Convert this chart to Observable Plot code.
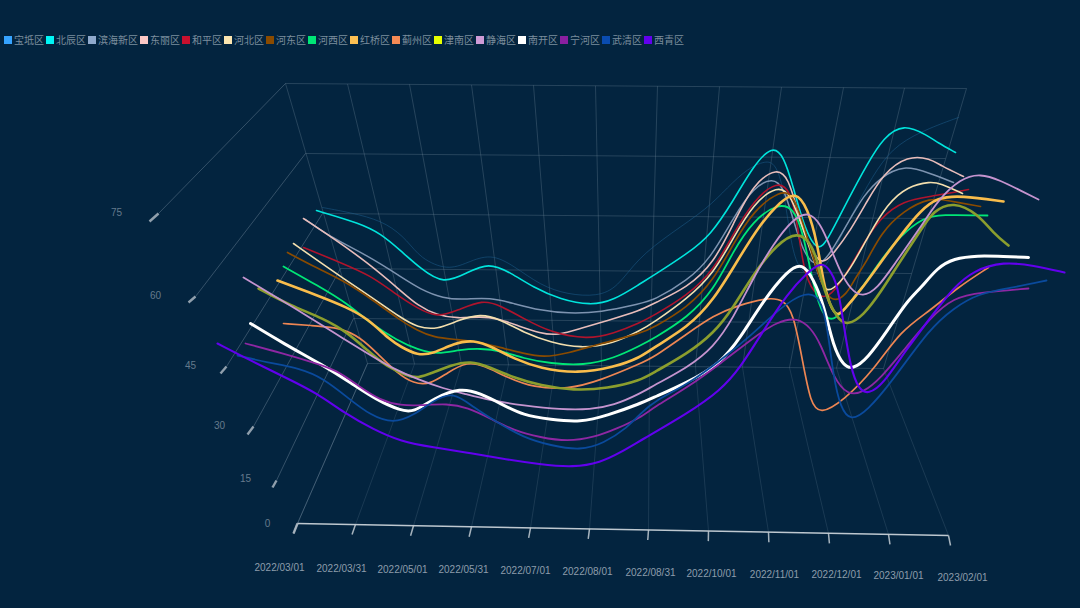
<!DOCTYPE html>
<html><head><meta charset="utf-8">
<script src="https://cdn.jsdelivr.net/npm/d3@7"></script>
<script src="https://cdn.jsdelivr.net/npm/@observablehq/plot@0.6"></script>
<style>
html,body{margin:0;padding:0;background:#03243f;width:1080px;height:608px;overflow:hidden}
#legend{height:50px;box-sizing:border-box;padding:29px 0 0 4px;display:flex;font:10px/10px "Noto Sans CJK SC",sans-serif;color:#7c8e9d}
#legend .it{display:flex;align-items:center;margin-right:2px}
#legend i{display:block;width:8px;height:8px;margin-right:2px}
svg{display:block}
</style></head><body>
<div id="legend"></div><div id="chart"></div>
<script>
// The original is a 3D chart seen in perspective. Values are read in its projected plane:
// flat lists of projected day (since 2022/03/01), projected value, ...
const baodi=[12.5,79.5,31.5,77.75,45,75.5,55,71.25,61.5,66.75,75,63.75,85,65.75,96.5,68,108,65,121.5,60,135,57.75,150,57.25,160,59.5,170,66.75,186.5,73,205,79.25,215,84.5,225,89.25,234,91.25,239,90.5,243,84.5,246.5,71.25,250,64.5,256.5,61.75,264,64.25,270,70.5,280,80.5,290,89.5,300,95.5,316.5,99.5,330.5,102];
const beichen=[9.5,78.75,31.5,75.5,41.5,73,51.5,68.75,61.5,64.25,73,60.25,85,63.25,95.5,65.75,106.5,63.25,118,59.5,131.5,56.5,146.5,55,158,56.25,171.5,60.5,178,62.5,195,68,206.5,72.5,218,81.25,228,90,237.5,95,243,92.5,248,84.5,253,75,260,68,265.5,71.75,275,81.25,285,90.5,293,97,303,100.5,315,97.5,320,95.75,329,93.25];
const binhai=[4,76.5,15,72.5,35,67.5,51.5,62.25,61.5,59,73,56.75,83,56.5,96.5,57,108,55.5,121.5,53.75,135,53,151.5,53.25,171.5,55.5,178,56.25,195,61.25,206.5,66.75,218,77,228,84.5,237.5,87,243,84.75,248,76.25,253,68,260,64.25,266.5,68,275,75.5,283,82.5,291.5,87,303,90.25,316.5,88,328,85.75];
const dongli=[3,76.75,18,71.75,35,65.75,51.5,58.75,60,55,70,52.5,80,51.75,91.5,52.25,100,51.75,110,50,121.5,48,130,47.5,141.5,49.25,155,51.25,171.5,53.75,178,55.5,195,59.5,208,65.5,218,75.5,228,85.5,240,89.5,245.5,86.75,250,78.75,256.5,68.75,262.5,65,268,68,276.5,73.75,285,81.25,293,88,305,92.5,316.5,91.75,321.5,90,333,87.25];
const heping=[3,69.5,21.5,65.75,36.5,62.5,48,58.25,60,54.25,70,52,80,53.75,92.5,56.5,101.5,55,113,51.75,126.5,48.25,145,46.5,158,48,171.5,50.75,178,52.5,195,57.5,208,63.75,218,73,228,81.25,240,86.25,246.5,83.75,250,75.5,253,63.75,258,58,265,56.25,274,62.5,283,70.5,291.5,77,303,81.25,316.5,82.25,335.5,84];
const hebei=[-2,70.5,10,66.25,23,61.75,38,56.75,51.5,52,60,49.5,70,49,80,51.25,91.5,53,101.5,51.5,113,48.25,126.5,45.75,141.5,44.25,158,45.5,171.5,48.75,178,50.75,195,56.75,208,63,218,72,228,80.5,240,85,246.5,83,253,73.75,260,63.75,264,57.5,271.5,60.75,278,65.5,285,72,295,80.5,305,84.75,316.5,86,321.5,85.5,332.5,83];
const hedong=[-5,68.25,10,64.25,23,61.25,38,56.25,51.5,51.25,60,48.75,68,47,80,46.5,91.5,45.75,101.5,44.5,113,43,123,42,135,43,151.5,45.5,171.5,48,178,49.5,195,54.5,208,61.25,218,70.5,228,78.75,241.5,83.75,247.5,83,253,75.5,260,63,266.5,55,275,58,278,61.25,285,66.25,291.5,73,303,78.75,316.5,82,325,81.25,341.5,79.75];
const hexi=[-7,64.75,10,60,25,55.5,36.5,50.5,50,46.25,60,44,70,42.75,81.5,44,91.5,44.25,101.5,43.75,113,41.75,126.5,40.5,143,40,158,41.75,171.5,45,178,46.75,195,52,208,58.75,218,68.75,228,76.25,240,80.5,248,79.5,253,73,258,59.5,263,52,268,51.25,273,53.75,281.5,58.75,291.5,66.25,301.5,72.5,313,77,321.5,77.75,345,77.5];
const hongqiao=[-10,61.25,10,57.5,25,54.5,35,51.75,46.5,46.25,51.5,44.75,60,42.5,68,43,78,45.5,88,46.5,98,44.5,108,41.75,121.5,39.25,140,38,158,39.5,171.5,42,178,44.5,195,49.5,208,56.25,220,66.25,231.5,75.5,241.5,81,249,83.5,255,79.5,260,70.5,263,60.5,266.5,54.5,270,52.25,273,53.75,281.5,58.75,291.5,65.75,301.5,72.5,311.5,78.75,320,82,331.5,82.5,353,81];
const jizhou=[-7,50.5,6.5,50,21.5,49.5,31.5,47,40,43,50,38,58,35.5,66.5,35.25,75,38.25,85,41,93,40,105,37,118,34.5,135,34,151.5,36.25,171.5,40.5,178,42,195,48,208,52.5,220,55,235,57,243,56.5,248,53,252.5,41.25,256.5,30.5,261.5,27.75,273,31.25,288,38.75,301.5,48.75,316.5,53.75,330,59.5,345.5,64.5];
const jinnan=[-19.5,59.25,-3.5,55,13,51.75,25,48.25,35,43.75,45,39.5,55,37.5,60,36.75,68,38.25,76.5,40,86.5,41.25,96.5,39.5,108,37,121.5,35,138,33.75,155,34.25,171.5,36.25,178,38.25,195,43,208,48,218,54.5,228,63,240,70.5,250,73.5,256.5,70.75,260,66.25,263,58.75,270,51.5,275,50,283,52.5,291.5,58.25,300,65,311.5,73.75,318,78.75,328,81,340,78,348,73,355.5,70];
const jinghai=[-27,62,-12,57.5,3,53,18,48.25,35,43,46.5,39.5,61.5,36.25,73,34.25,83,33,96.5,31.25,113,30,131.5,29,146.5,29,158,30,171.5,33,178,35,195,39.5,208,44.5,218,52,228,62,238,70.5,248,76.75,255.5,78.5,261.5,75.5,266.5,69.5,271.5,63.25,276.5,59,282.5,57,290,59.25,298,65,311.5,74.5,320,81.25,331.5,86.75,341.5,88,351.5,86.25,361.5,83.75,370.5,81.5];
const nankai=[-23.5,50.5,-7,45.5,13,40,26.5,35.75,40,31.25,51.5,28.75,58,28.25,68,31.75,81.5,34.5,91.5,33,101.5,30.5,113,27.5,126.5,26.5,141.5,25.75,155,27.5,171.5,30.5,178,32,195,35.75,211.5,40.5,221.5,47,233,56.25,245,63.75,252.5,65.75,258,61.5,263,55.5,268,44.5,273,40,277.5,39,285,41.75,295,48.75,305,56.25,311.5,59.25,320,64.5,328,66.75,340,67.5,353,67.25,365.5,67];
const ninghe=[-26,45.5,-7,43,8,40.75,20,38.75,30,35,41.5,31.25,51.5,30,61.5,30,75,30.5,85,29.5,96.5,26.75,108,23.75,121.5,22,135,21,148,22,160,24.25,171.5,27,178,29.5,195,34.5,211.5,40.5,228,47,240,51,250,52,256.5,49.5,261.5,45.5,268,37,275,32.5,283,33.25,291.5,36.75,303,43.75,316.5,52,328,57,341.5,58.25,365.5,59.25];
const wuqing=[-30,42.5,-15,40.75,1.5,39.25,13,36.75,25,32,36.5,27.5,48,25.5,58,27.5,68,31.25,78,33.5,88,29.5,100,25.75,113,22,126.5,20,141.5,18.75,153,20.5,165,24.5,171.5,28,178,31,195,35.25,211.5,41.25,228,48,241.5,54.5,254,58.5,261.5,57.25,265,49.5,268,37,271.5,29.5,276.5,26,285,28.75,296.5,35.5,316.5,49.5,328,54.25,340,58,358,59.5,374.5,61.25];
const xiqing=[-40,45.5,-23.5,41.25,-5,36.75,10,33,23,28.25,38,24,51.5,21,68,19.5,85,18.25,101.5,16.75,121.5,15.25,138,14.5,151.5,15.75,161.5,18.25,171.5,21.25,195,28,211.5,33.75,221.5,39.5,233,48.75,245,58,255,63.25,261.5,65.75,265.5,64.5,270,60.5,273,50.5,276.5,39.5,280.5,34,285.5,32.75,293,35.5,303,43,316.5,52,328,59.5,338,63.75,353,66,368,65,383.5,63.25];

const names=["宝坻区","北辰区","滨海新区","东丽区","和平区","河北区","河东区","河西区","红桥区","蓟州区","津南区","静海区","南开区","宁河区","武清区","西青区"];
const seriesValues=[baodi,beichen,binhai,dongli,heping,hebei,hedong,hexi,hongqiao,jizhou,jinnan,jinghai,nankai,ninghe,wuqing,xiqing];
const legendColors=["#36a3ff","#00f5f5","#8fa9cc","#fbc8c6","#c8102e","#fbe5b0","#8a4b00","#00e676","#fdc052","#f58a55","#e6ff00","#ce9bd6","#ffffff","#8a1fa0","#0a4cb0","#6200ee"];
const lineColors=["#1d5f8f","#00e4dc","#7d93b0","#e8bdbb","#b0142c","#f3dfae","#8a4b00","#00e676","#f9bd4c","#ee8653","#8b9e2e","#c594cf","#ffffff","#8e27a3","#0a4a9c","#6200ee"];
const lineWidths=[1,1.6,1.5,1.6,1.6,1.6,1.7,1.8,2.6,1.7,2.6,1.8,3,1.8,1.8,2.1];

const dateLabels=["2022/03/01","2022/03/31","2022/05/01","2022/05/31","2022/07/01","2022/08/01","2022/08/31","2022/10/01","2022/11/01","2022/12/01","2023/01/01","2023/02/01"];
const dateLabelDays=[-9,22,52.5,83,114,145,176.5,207,238.5,269.5,300.5,332.5];
const dateLabelVals=[-10.5,-10.75,-11,-11,-11.25,-11.5,-11.75,-12,-12.25,-12.25,-12.5,-13];
const valueLabels=["75","60","45","30","15","0"];
const valueLabelDays=[-90.5,-71,-53.5,-39,-26,-15];
const valueLabelVals=[78.25,57.5,40,25,11.75,0.5];

const topDays=[-6,25,56,87,118,149,180,211,242,273,303.5,334.5];
const backDays=[35,58.5,82,105.5,129,152,176,199,222.5,246,269.5,293];
const frontDays=[0,29,58,87,116.5,146,175.5,205.5,235.5,265.5,295.5,325.5];
const wallLeft=[[-6,110.5],[4,93],[12.5,78],[21.5,64.25],[28,51.75],[35,40.5]];
const wallRight=[[334.5,109.25],[324,91.75],[315,76.75],[307,63],[299.5,50.5],[293,39.25]];
const sideFront=[[-69.5,78],[-51,57.25],[-35.5,39.75],[-22,24.75],[-10.5,11.25],[0,0.5]];
const sideStub=[[-74,76],[-54.5,55.75],[-38.5,38],[-25,22.75],[-12.5,9.5],[-2,-2]];

const pairs=a=>d3.range(0,a.length,2).map(i=>({day:a[i],val:a[i+1]}));
const seg=(a,b,extra={})=>({x1:a[0],y1:a[1],x2:b[0],y2:b[1],...extra});
const step=(a,b,i)=>a+(b-a)*i/11;

const gridBack=[], gridFloor=[], gridSide=[], stubs=[], ticks=[];
wallLeft.forEach((p,i)=>{gridBack.push(seg(p,wallRight[i]));gridSide.push(seg(p,sideFront[i]));stubs.push(seg(sideFront[i],sideStub[i]));});
topDays.forEach((d,i)=>{
  const vTop=step(110.5,109.25,i), vBack=step(40.5,39.25,i), vFront=step(0.5,-2.5,i);
  gridBack.push(seg([d,vTop],[backDays[i],vBack]));
  gridFloor.push(seg([backDays[i],vBack],[frontDays[i],vFront]));
  ticks.push(seg([frontDays[i],vFront],[frontDays[i]+step(-2,1,i),vFront-2.5]));
});
const rule=(data,stroke,w,op)=>Plot.link(data,{x1:"x1",y1:"y1",x2:"x2",y2:"y2",stroke,strokeWidth:w,strokeOpacity:op});

const font='"Liberation Sans","Noto Sans CJK SC",sans-serif';
const chart=Plot.plot({
  width:1080,height:558,margin:0,
  style:{background:"transparent",fontFamily:font},
  x:{domain:[-148.5,391.5],range:[0,1080],axis:null},
  y:{domain:[-20.75,118.75],range:[558,0],axis:null},
  marks:[
    rule(gridBack,"#6d8599",1,0.33),
    rule(gridSide,"#7a90a3",1,0.42),
    rule(gridFloor,"#7a90a3",1,0.2),
    rule([seg([0,0.5],[325.5,-2.5])],"#d3dae0",1.5,0.9),
    rule(ticks,"#c3ccd4",1.5,0.85),
    rule(stubs,"#a9b5c0",2.4,0.85),
    ...seriesValues.map((s,i)=>Plot.line(pairs(s),{x:"day",y:"val",curve:"basis",stroke:lineColors[i],strokeWidth:lineWidths[i],strokeOpacity:i===0?0.5:1})),
    Plot.text(dateLabels,{x:(d,i)=>dateLabelDays[i],y:(d,i)=>dateLabelVals[i],text:d=>d,fill:"#8d9dab",fontSize:10,textAnchor:"middle"}),
    Plot.text(valueLabels,{x:(d,i)=>valueLabelDays[i],y:(d,i)=>valueLabelVals[i],text:d=>d,fill:"#657a8c",fontSize:10,textAnchor:"middle"})
  ]
});
document.getElementById("chart").append(chart);
const lg=document.getElementById("legend");
names.forEach((n,i)=>{
  const it=document.createElement("div");it.className="it";
  const sw=document.createElement("i");sw.style.background=legendColors[i];
  const t=document.createElement("span");t.textContent=n;
  it.append(sw,t);lg.append(it);
});
</script>
</body></html>
